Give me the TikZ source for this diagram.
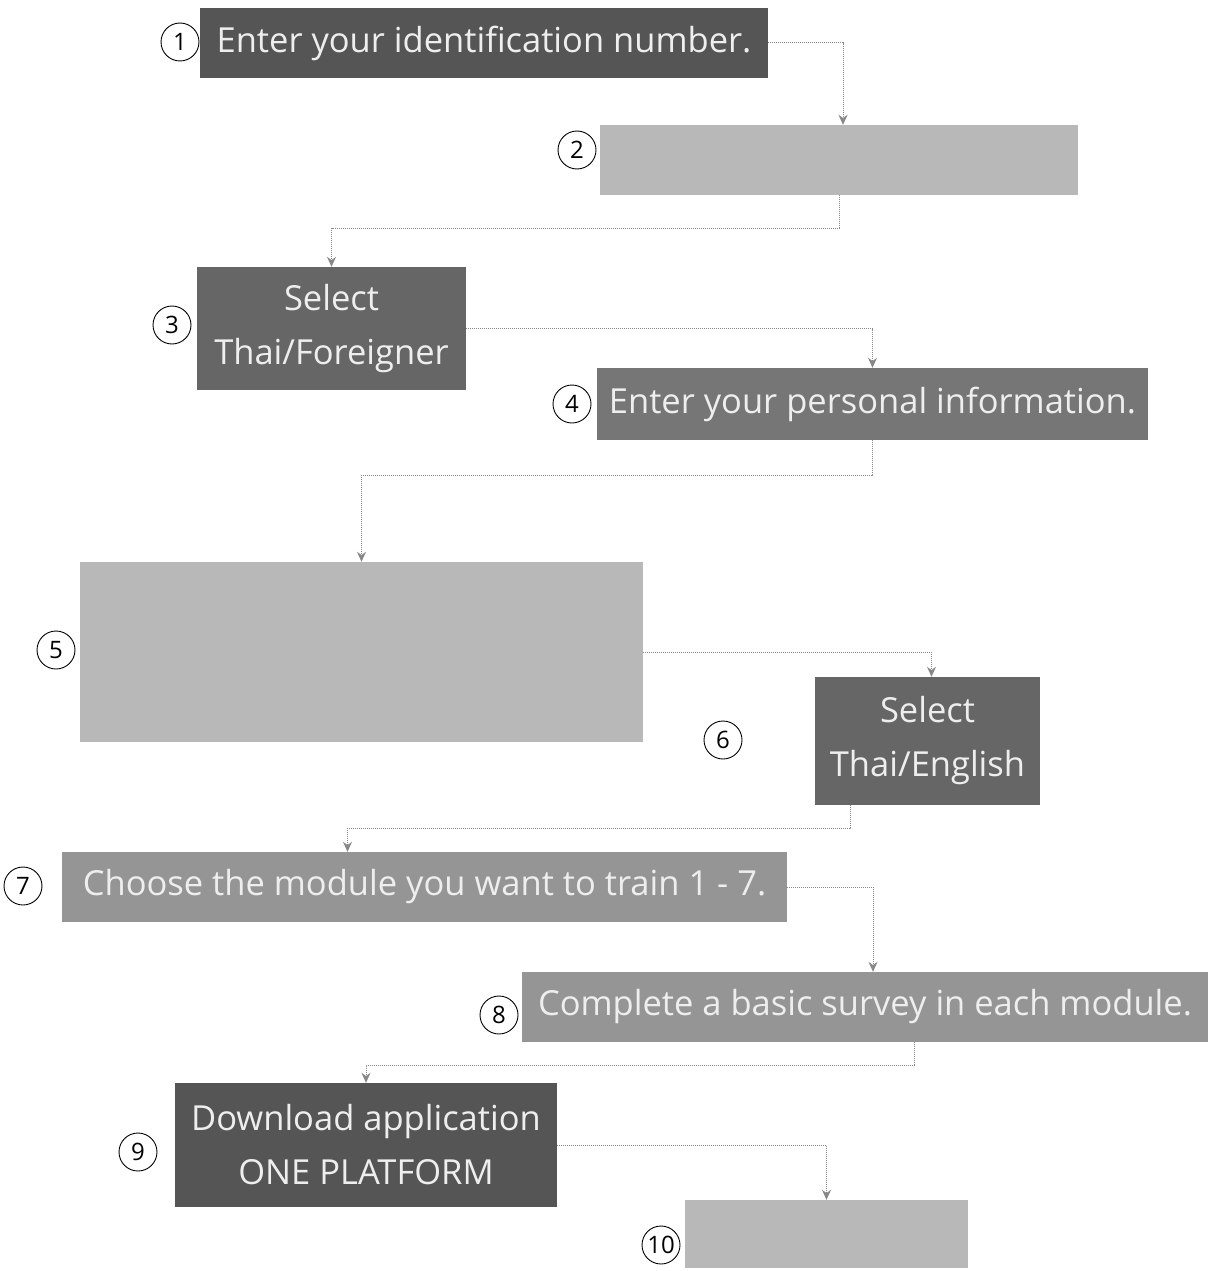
\documentclass[tikz,border=0pt]{standalone}
\usepackage{fontspec}
\setmainfont{Open Sans}
\usetikzlibrary{arrows.meta}
\definecolor{cdark}{HTML}{555555}
\definecolor{cmid}{HTML}{666666}
\definecolor{cmidl}{HTML}{767676}
\definecolor{cgray}{HTML}{959595}
\definecolor{clight}{HTML}{B8B8B8}
\definecolor{ctext}{HTML}{EEEEEE}
\definecolor{cline}{HTML}{888888}
\tikzset{
  stepbox/.style={rectangle, draw=none, inner sep=0pt, text=ctext, align=center,
     font=\fontsize{34.5}{54}\selectfont},
  numcirc/.style={circle, draw=black, line width=0.9pt, fill=white, inner sep=0pt,
     minimum size=38pt, font=\fontsize{24}{26}\selectfont},
  conn/.style={draw=cline, line width=1pt, densely dotted,
     -{Stealth[length=10pt,width=9pt,fill=cline]}}
}
\begin{document}
\begin{tikzpicture}[x=1pt,y=-1pt]
\useasboundingbox[fill=white] (0,0) rectangle (1214,1271);
% boxes
\node[stepbox, fill=cdark, minimum width=568pt, minimum height=70pt] (b1) at (484,43) {Enter your identification number.};
\node[stepbox, fill=clight, minimum width=478pt, minimum height=70pt] (b2) at (839,160) {};
\node[stepbox, fill=cmid, minimum width=269pt, minimum height=123pt] (b3) at (331.5,328.5) {Select\\Thai/Foreigner};
\node[stepbox, fill=cmidl, minimum width=551pt, minimum height=72pt] (b4) at (872.5,404) {Enter your personal information.};
\node[stepbox, fill=clight, minimum width=563pt, minimum height=180pt] (b5) at (361.5,652) {};
\node[stepbox, fill=cmid, minimum width=225pt, minimum height=128pt] (b6) at (927.5,741) {Select\\Thai/English};
\node[stepbox, fill=cgray, minimum width=725pt, minimum height=70pt] (b7) at (424.5,887) {Choose the module you want to train 1 - 7.};
\node[stepbox, fill=cgray, minimum width=686pt, minimum height=70pt] (b8) at (865,1007) {Complete a basic survey in each module.};
\node[stepbox, fill=cdark, minimum width=382pt, minimum height=124pt] (b9) at (366,1145) {Download application\\ONE PLATFORM};
\node[stepbox, fill=clight, minimum width=283pt, minimum height=68pt] (b10) at (826.5,1234) {};
% number circles
\node[numcirc] (n1) at (180,42) {1};
\node[numcirc] (n2) at (577,150) {2};
\node[numcirc] (n3) at (172,325) {3};
\node[numcirc] (n4) at (572,404) {4};
\node[numcirc] (n5) at (56,650) {5};
\node[numcirc] (n6) at (723,740) {6};
\node[numcirc] (n7) at (23,886) {7};
\node[numcirc] (n8) at (499,1015) {8};
\node[numcirc] (n9) at (138,1152) {9};
\node[numcirc] (n10) at (661,1245) {10};
% connectors
\coordinate (c1) at ([xshift=4pt]b2.north);
\draw[conn] (b1.east) -| (c1);
\draw[conn] (b2.south) -- ++(0,33) -| (b3.north);
\draw[conn] (b3.east) -| (b4.north);
\draw[conn] (b4.south) -- ++(0,35) -| (b5.north);
\coordinate (c5) at ([xshift=4pt]b6.north);
\draw[conn] (b5.east) -| (c5);
\coordinate (c6) at ([xshift=-77pt]b6.south);
\coordinate (c7) at ([xshift=-77pt]b7.north);
\draw[conn] (c6) -- ++(0,23) -| (c7);
\coordinate (c7b) at ([xshift=8pt]b8.north);
\draw[conn] (b7.east) -| (c7b);
\coordinate (c8) at ([xshift=49pt]b8.south);
\draw[conn] (c8) -- ++(0,23) -| (b9.north);
\draw[conn] (b9.east) -| (b10.north);
\end{tikzpicture}
\end{document}
